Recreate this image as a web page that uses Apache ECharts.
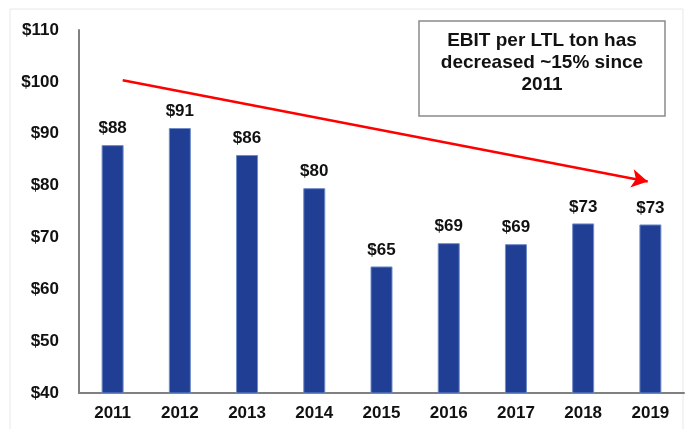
<!DOCTYPE html>
<html>
<head>
<meta charset="utf-8">
<script src="https://cdn.jsdelivr.net/npm/echarts@6/dist/echarts.min.js"></script>
<style>
  html, body { margin: 0; padding: 0; background: #fff; }
  #chart { width: 685px; height: 429px; }
</style>
</head>
<body>
<div id="chart"></div>
<script>
var years = ["2011", "2012", "2013", "2014", "2015", "2016", "2017", "2018", "2019"];
var ebit = [87.8, 91.1, 85.9, 79.5, 64.4, 68.9, 68.7, 72.7, 72.5];
var barLabels = ["$88", "$91", "$86", "$80", "$65", "$69", "$69", "$73", "$73"];
// trend arrow, in (category position, value)
var trendFrom = [0.15, 100.3];
var trendTo = [7.96, 80.8];
var noteText = "EBIT per LTL ton has\ndecreased ~15% since\n2011";

var chart = echarts.init(document.getElementById("chart"));
var font = "'Liberation Sans', Arial, sans-serif";

var option = {
  animation: false,
  backgroundColor: "#fff",
  grid: { left: 79, right: 1, top: 30, bottom: 36 },
  xAxis: [
    {
      type: "category",
      data: years,
      axisLine: { lineStyle: { color: "#808080", width: 2 } },
      axisTick: { show: false },
      axisLabel: { color: "#111", fontFamily: font, fontWeight: "bold", fontSize: 17, margin: 12 }
    },
    {
      type: "value",
      min: -0.5,
      max: 8.5,
      show: false
    }
  ],
  yAxis: {
    type: "value",
    min: 40,
    max: 110,
    interval: 10,
    axisLine: { show: true, onZero: false, lineStyle: { color: "#808080", width: 2 } },
    axisTick: { show: false },
    splitLine: { show: false },
    axisLabel: {
      color: "#111", fontFamily: font, fontWeight: "bold", fontSize: 17, margin: 20,
      formatter: function (v) { return "$" + v; }
    }
  },
  series: [
    {
      type: "bar",
      data: ebit,
      barWidth: 22,
      itemStyle: { color: "#1f3e94", borderColor: "#6f8cc8", borderWidth: 1 },
      label: {
        show: true,
        position: "top",
        distance: 8,
        color: "#111",
        fontFamily: font,
        fontWeight: "bold",
        fontSize: 17,
        formatter: function (p) { return barLabels[p.dataIndex]; }
      }
    },
    {
      type: "line",
      xAxisIndex: 1,
      data: [],
      markLine: {
        silent: true,
        symbol: ["none", "arrow"],
        symbolSize: [14, 16],
        label: { show: false },
        lineStyle: { color: "#ff0000", width: 2.5, type: "solid" },
        data: [[{ coord: trendFrom }, { coord: trendTo }]]
      }
    }
  ],
  graphic: [
    {
      type: "rect",
      shape: { x: 10, y: 9, width: 673, height: 425 },
      style: { fill: "none", stroke: "#e8e8e8", lineWidth: 1 },
      z: -1
    },
    {
      type: "rect",
      shape: { x: 419, y: 21, width: 246, height: 95 },
      style: { fill: "#fff", stroke: "#8a8a8a", lineWidth: 1.5 }
    },
    {
      type: "text",
      x: 542,
      y: 30,
      style: {
        text: noteText,
        textAlign: "center",
        fill: "#111",
        font: "bold 19px " + font,
        lineHeight: 22
      }
    }
  ]
};
chart.setOption(option);
</script>
</body>
</html>
